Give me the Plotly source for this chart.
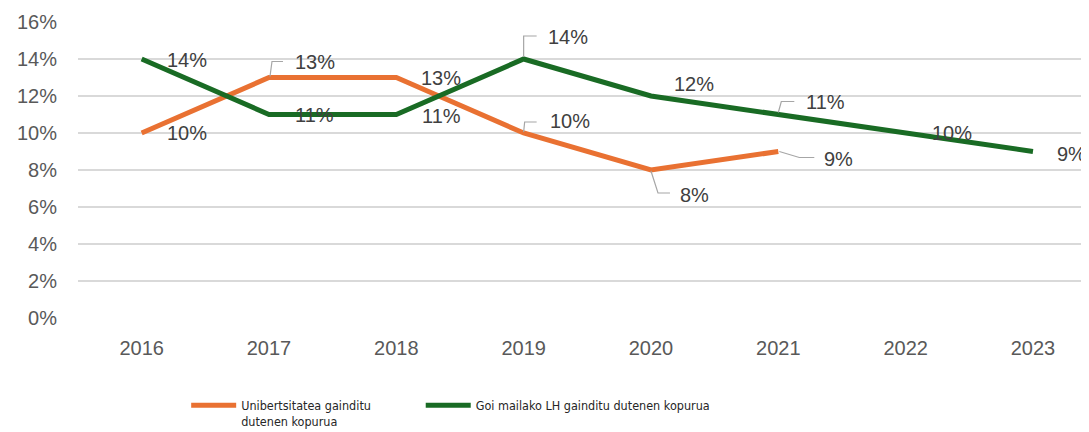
import plotly.graph_objects as go

years = [2016, 2017, 2018, 2019, 2020, 2021, 2022, 2023]
uni_name = "Unibertsitatea gainditu<br>dutenen kopurua"
uni_vals = [10, 13, 13, 10, 8, 9]
lh_name = "Goi mailako LH gainditu dutenen kopurua"
lh_vals = [14, 11, 11, 14, 12, 11, 10, 9]
y_ticks = [0, 2, 4, 6, 8, 10, 12, 14, 16]

ORANGE = "#E97132"
GREEN = "#196B24"
LABEL_COLOR = "#404040"
TICK_COLOR = "#595959"
LEADER = "#A6A6A6"
FONT = "Liberation Sans, Arial, sans-serif"
LEG_FONT = dict(family="DejaVu Sans Condensed, Liberation Sans, sans-serif", size=12.5, color="#262626")

# label pixel offsets (dx, dy up) and optional leader path (pixels relative to point)
uni_style = [
    (45, 0, None),
    (46, 16, "M 1,1 L 3,16 L 14,16"),
    (45, 0, None),
    (46, 12, "M 0,1 L 1,11 L 13,11"),
    (44, -25, "M 0,-1 L 7,-23 L 19,-23"),
    (60, -7, "M 1,0 L 21,-6 L 36,-6"),
]
lh_style = [
    (45, -1, None),
    (46, 0, None),
    (45, -1, None),
    (44, 22, "M 0,2 L 0,23 L 13,23"),
    (43, 12, None),
    (47, 13, "M 0,2 L 3,13 L 16,13"),
    (46, 0, None),
    (39, -2, None),
]

fig = go.Figure()
fig.add_trace(go.Scatter(x=years[:len(uni_vals)], y=uni_vals, name=uni_name, mode="lines",
                         line=dict(color=ORANGE, width=5), legend="legend"))
fig.add_trace(go.Scatter(x=years, y=lh_vals, name=lh_name, mode="lines",
                         line=dict(color=GREEN, width=5), legend="legend2"))

annotations = []
shapes = []
for xs, vals, style in [(years, uni_vals, uni_style), (years, lh_vals, lh_style)]:
    for x, v, (dx, dy, path) in zip(xs, vals, style):
        annotations.append(dict(x=x, y=v, xref="x", yref="y", text=f"{v}%", showarrow=False,
                                xshift=dx, yshift=dy,
                                font=dict(family=FONT, size=20, color=LABEL_COLOR)))
        if path:
            shapes.append(dict(type="path", xref="x", yref="y", xsizemode="pixel", ysizemode="pixel",
                               xanchor=x, yanchor=v, path=path,
                               line=dict(color=LEADER, width=1.2)))

leg_common = dict(orientation="h", xanchor="left", yanchor="top", valign="top", itemwidth=45,
                  font=LEG_FONT, bgcolor="rgba(0,0,0,0)")

# page body has an 8px default margin, so the figure is sized to fit the 1089x432 window
fig.update_layout(
    width=1081, height=424,
    margin=dict(l=70, r=0, t=14, b=114, autoexpand=False),
    paper_bgcolor="white", plot_bgcolor="white",
    showlegend=True,
    legend=dict(x=0.107, y=-0.245, **leg_common),
    legend2=dict(x=0.339, y=-0.245, **leg_common),
    annotations=annotations,
    shapes=shapes,
    xaxis=dict(range=[2015.5, 2023.44], tickvals=years, ticktext=[str(y) for y in years],
               showgrid=False, zeroline=False, showline=False, ticks="", automargin=False,
               tickfont=dict(family=FONT, size=20, color=TICK_COLOR), ticklabelstandoff=16),
    yaxis=dict(range=[0, 16], tickvals=y_ticks, ticktext=[f"{t}%" for t in y_ticks], showgrid=True,
               gridcolor="#D9D9D9", gridwidth=1.5, zeroline=False, showline=False, ticks="",
               automargin=False,
               tickfont=dict(family=FONT, size=20, color=TICK_COLOR), ticklabelstandoff=20),
)

fig.write_html("out.html")
